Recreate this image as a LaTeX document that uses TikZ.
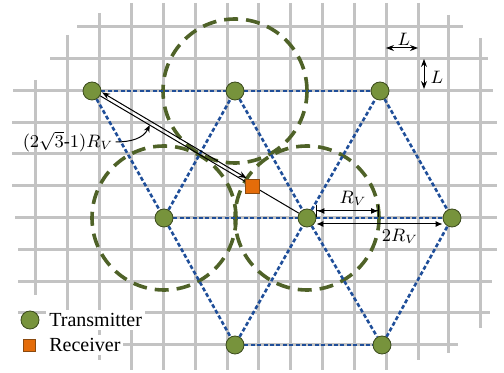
\documentclass[tikz,border=0pt]{standalone}
\usepackage{fontspec}
\setmainfont{Liberation Serif}
\usetikzlibrary{arrows.meta,calc,backgrounds}
\definecolor{grgray}{HTML}{C3C3C3}
\definecolor{txgreen}{HTML}{77933C}
\definecolor{txedge}{HTML}{3A4A1C}
\definecolor{cvgreen}{HTML}{4F6228}
\definecolor{lkblue}{HTML}{1F4E99}
\definecolor{rxorange}{HTML}{E46C0A}
\definecolor{rxedge}{HTML}{8A4A10}
\tikzset{
    gridline/.style={draw=grgray, line width=1.5pt},
    coverage/.style={draw=cvgreen, line width=1.8pt,
        dash pattern=on 7pt off 4pt},
    link/.style={draw=lkblue, line width=1.3pt,
        dash pattern=on 2pt off 1.2pt},
    tx/.style={
        circle, fill=txgreen, draw=txedge, line width=0.4pt,
        minimum size=9pt, inner sep=0pt
    },
    rxbox/.style={
        rectangle, fill=rxorange, draw=rxedge, line width=0.4pt,
        minimum size=7pt, inner sep=0pt
    },
    dimarrow/.style={{Stealth[length=4pt,width=3pt]}-{Stealth[length=4pt,width=3pt]},
        line width=0.5pt},
    rvarrow/.style={{Bar[width=6pt]Latex[length=3.5pt,width=3pt]}-{Latex[length=3.5pt,width=3pt]Bar[width=6pt]},
        line width=0.5pt},
    tworvarrow/.style={{Latex[length=3.5pt,width=3pt]}-{Latex[length=3.5pt,width=3pt]},
        line width=0.5pt},
    pointer/.style={-{Stealth[length=3.5pt,width=3pt]}, line width=0.5pt},
    thinline/.style={line width=0.5pt},
    mathlabel/.style={font=\small, inner sep=1pt},
    legtext/.style={font=\rmfamily\normalsize, fill=white, inner sep=1.5pt, anchor=west},
}

\begin{document}
\begin{tikzpicture}[x=0.5pt, y=-0.5pt]

    \useasboundingbox (0,0) rectangle (504,373);

    % Transmitters
    \node[tx] (t1) at (92,91)  {};
    \node[tx] (t2) at (235,91) {};
    \node[tx] (t3) at (380,91) {};
    \node[tx] (t4) at (164,218) {};
    \node[tx] (t5) at (307,218) {};
    \node[tx] (t6) at (452,218) {};
    \node[tx] (t7) at (235,345) {};
    \node[tx] (t8) at (382,345) {};

    % Receiver
    \node[rxbox] (rx) at (252,186) {};

    % Helper points
    \coordinate (c5e) at ($(t5)+(72,0)$);
    \coordinate (ptr) at ($(t1)!0.36!(rx)$);
    \coordinate (lha) at (386,48);
    \coordinate (lhb) at (418,48);
    \coordinate (lva) at (424,59);
    \coordinate (lvb) at (424,89);

    % Grid, coverage circles and links
    \begin{scope}[on background layer]
        \foreach \y/\xa/\xb in {27/77/463, 59/50/488, 91/13/493, 123/12/497,
            154/12/497, 186/12/497, 218/15/497, 250/18/497, 282/18/492,
            313/18/490, 345/122/458}
            \draw[gridline] (\xa,\y) -- (\xb,\y);
        \foreach \x/\ya/\yb in {35/80/295, 67/35/327, 99/13/360, 131/3/370,
            163/3/370, 195/3/370, 227/3/370, 258/3/370, 290/3/370, 322/3/370,
            354/3/370, 386/3/370, 418/3/360, 448/15/353, 480/38/328}
            \draw[gridline] (\x,\ya) -- (\x,\yb);

        \draw[coverage] (t2) circle[radius=36pt];
        \draw[coverage] (t4) circle[radius=36pt];
        \draw[coverage] (t5) circle[radius=36pt];

        \draw[link] (t1) -- (t2) -- (t3);
        \draw[link] (t4) -- (t5) -- (t6);
        \draw[link] (t7) -- (t8);
        \draw[link] (t1) -- (t4) -- (t2) -- (t5) -- (t3) -- (t6);
        \draw[link] (t4) -- (t7) -- (t5) -- (t8) -- (t6);

        \draw[thinline] (t1) -- (t5);
    \end{scope}

    % Distances
    \draw[dimarrow, transform canvas={xshift=1pt, yshift=1.7pt}] (t1) -- (rx);
    \node[mathlabel] (lbl) at (68,142) {$(2\sqrt{3}\mbox{-}1)R_V$};
    \draw[pointer] (lbl.east) to[out=0, in=-115] (ptr);

    \draw[rvarrow] ([yshift=3.5pt]t5.east) -- ([yshift=3.5pt]c5e);
    \node[mathlabel] (rv) at (353,198) {$R_V$};
    \draw[tworvarrow] ([yshift=-3pt]t5.east) -- ([yshift=-3pt]t6.west);
    \node[mathlabel] (tworv) at (400,236) {$2R_V$};

    \draw[dimarrow] (lha) -- (lhb);
    \node[mathlabel] (lh) at (404,39) {$L$};
    \draw[dimarrow] (lva) -- (lvb);
    \node[mathlabel] (lv) at (437,77) {$L$};

    % Legend
    \node[tx] (legtx) at (30,320) {};
    \node[legtext] (legtxt) at (46,320) {Transmitter};
    \node[rxbox, minimum size=6pt] (legrx) at (29,345) {};
    \node[legtext] (legrxt) at (46,345) {Receiver};

\end{tikzpicture}
\end{document}
